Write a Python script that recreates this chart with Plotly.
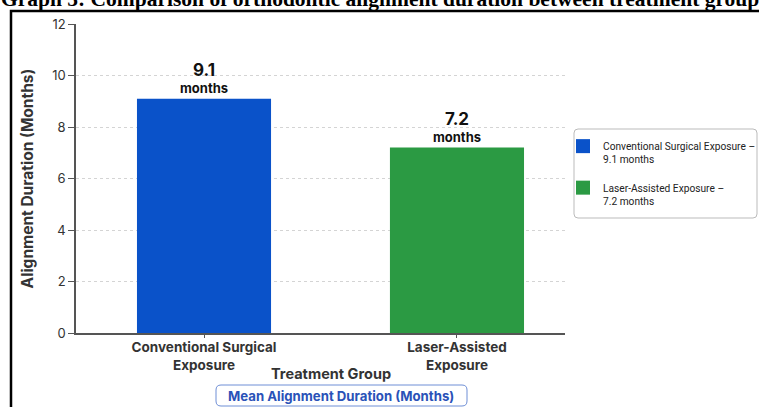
import plotly.graph_objects as go

# Data
groups = ["Conventional Surgical<br>Exposure", "Laser-Assisted<br>Exposure"]
legend_names = ["Conventional Surgical Exposure", "Laser-Assisted Exposure"]
durations = [9.1, 7.2]
bar_colors = ["#0a52c9", "#2b9a43"]
y_ticks = [0, 2, 4, 6, 8, 10, 12]

W, H = 759, 407
ML, MR, MT, MB = 76, 194, 24, 74
PW, PH = W - ML - MR, H - MT - MB


def px_x(x):
    return (x - ML) / PW


def px_y(y):
    return (H - MB - y) / PH


def rounded_rect(x0, y0, x1, y1, r):
    """SVG path for a rounded rectangle given in pixel coordinates, output in paper units."""
    rx, ry = r / PW, r / PH
    a, b, c, d = px_x(x0), px_y(y1), px_x(x1), px_y(y0)  # left, bottom, right, top
    return (f"M{a+rx},{b} L{c-rx},{b} Q{c},{b} {c},{b+ry} L{c},{d-ry} Q{c},{d} {c-rx},{d} "
            f"L{a+rx},{d} Q{a},{d} {a},{d-ry} L{a},{b+ry} Q{a},{b} {a+rx},{b} Z")


FONT = "Inter"
DARK = "#333333"

fig = go.Figure()
for i, (g, name, v, col) in enumerate(zip(groups, legend_names, durations, bar_colors)):
    fig.add_trace(go.Bar(
        x=[g], y=[v],
        name=name,
        showlegend=False,
        marker=dict(color=col, line=dict(width=0)),
        width=0.53,
        text=[f"<b><span style='font-size:17px'>{v}</span></b><br><b>months</b>"],
        textposition="outside",
        textfont=dict(family=FONT, size=13, color="#111111"),
        cliponaxis=False,
    ))
    # square swatch for the legend
    fig.add_trace(go.Scatter(
        x=[None], y=[None], mode="markers",
        name=f"{name} –<br>{v} months",
        legendgroup=f"g{i}",
        marker=dict(symbol="square", size=14, color=col),
    ))

fig.update_layout(
    width=W, height=H,
    margin=dict(l=ML, r=MR, t=MT, b=MB, autoexpand=False),
    paper_bgcolor="white",
    plot_bgcolor="white",
    font=dict(family=FONT, color=DARK),
    showlegend=True,
    legend=dict(
        x=px_x(563), y=px_y(133), xanchor="left", yanchor="top",
        font=dict(family="Roboto", size=10.2, color="#222222"),
        bgcolor="rgba(0,0,0,0)",
        borderwidth=0,
        itemsizing="trace",
        valign="top",
        tracegroupgap=12,
    ),
    xaxis=dict(
        type="category",
        range=[-0.506, 1.427],
        showline=True, linecolor="#555555", linewidth=1.5,
        ticks="outside", ticklen=3, tickcolor="#555555",
        tickfont=dict(family=FONT, size=13.5, color=DARK, weight="bold"),
        ticklabelstandoff=-2,
        showgrid=False,
    ),
    yaxis=dict(
        range=[0, 12],
        tickvals=y_ticks,
        showline=True, linecolor="#555555", linewidth=1.5,
        ticks="outside", ticklen=6, tickcolor="#555555",
        tickfont=dict(family=FONT, size=13, color=DARK),
        showgrid=True, gridcolor="#d4d4d4", griddash="dot", gridwidth=1,
        zeroline=False,
        title=dict(text="<b>Alignment Duration (Months)</b>", font=dict(family=FONT, size=15.5, color=DARK), standoff=15),
    ),
)

shapes = [
    # outer frame
    dict(type="rect", xref="paper", yref="paper",
         x0=px_x(11), x1=px_x(790), y0=px_y(430), y1=px_y(11),
         line=dict(color="black", width=2.5), layer="above"),
    # legend box
    dict(type="path", xref="paper", yref="paper",
         path=rounded_rect(574, 129, 757, 218, 4),
         line=dict(color="#bbbbbb", width=1), fillcolor="rgba(255,255,255,0)", layer="below"),
    # caption box
    dict(type="path", xref="paper", yref="paper",
         path=rounded_rect(216, 385, 467, 406, 5),
         line=dict(color="#6f8fd6", width=1), fillcolor="white", layer="above"),
]
fig.update_layout(shapes=shapes)

fig.add_annotation(
    text="<b>Graph 5: Comparison of orthodontic alignment duration between treatment groups</b>",
    xref="paper", yref="paper", x=px_x(-1), y=px_y(13.5),
    xanchor="left", yanchor="bottom", showarrow=False,
    font=dict(family="Liberation Serif", size=21.5, color="black"),
)
# x-axis title
fig.add_annotation(
    text="<b>Treatment Group</b>",
    xref="paper", yref="paper", x=px_x(331), y=px_y(373),
    xanchor="center", yanchor="middle", showarrow=False,
    font=dict(family=FONT, size=14.5, color=DARK),
)
fig.add_annotation(
    text="<b>Mean Alignment Duration (Months)</b>",
    xref="paper", yref="paper", x=px_x(341), y=px_y(396),
    xanchor="center", yanchor="middle", showarrow=False,
    font=dict(family=FONT, size=13.2, color="#2a52b8"),
)

fig.write_html("out.html")
